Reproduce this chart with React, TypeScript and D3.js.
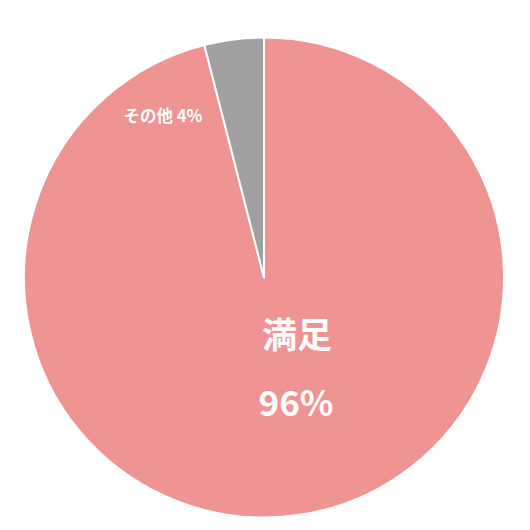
import * as d3 from "d3";
import { useEffect, useRef } from "react";

const categories = ["満足", "その他"];
const values = [96, 4];
const colors = ["#ef9393", "#a0a0a0"];

const W = 530;
const H = 530;
const FONT = "'Noto Sans CJK JP', 'Noto Sans', sans-serif";

export default function App() {
  const ref = useRef<SVGSVGElement>(null);

  useEffect(() => {
    if (!ref.current) return;
    const svg = d3.select(ref.current);
    svg.selectAll("*").remove();

    const cx = 264;
    const cy = 277.5;
    const r = 240;

    const data = categories.map((c, i) => ({ name: c, value: values[i], color: colors[i] }));
    // 時計回り、小さいスライスが左上に来るように
    const pie = d3
      .pie<(typeof data)[number]>()
      .value((d) => d.value)
      .sort(null)
      .startAngle(0)
      .endAngle(2 * Math.PI);
    const arcs = pie(data);
    const arc = d3.arc<d3.PieArcDatum<(typeof data)[number]>>().innerRadius(0).outerRadius(r);

    const g = svg.append("g").attr("transform", `translate(${cx},${cy})`);

    g.selectAll("path")
      .data(arcs)
      .enter()
      .append("path")
      .attr("d", arc)
      .attr("fill", (d) => d.data.color)
      .attr("stroke", "#fff")
      .attr("stroke-width", 2)
      .attr("stroke-linejoin", "round");

    // 大きいスライスのラベル
    const big = arcs[0];
    g.append("text")
      .attr("x", 33)
      .attr("y", 70)
      .attr("text-anchor", "middle")
      .attr("fill", "#fff")
      .attr("font-family", FONT)
      .attr("font-weight", 700)
      .attr("font-size", 35)
      .text(big.data.name);
    g.append("text")
      .attr("x", 32)
      .attr("y", 138)
      .attr("text-anchor", "middle")
      .attr("fill", "#fff")
      .attr("font-family", FONT)
      .attr("font-weight", 700)
      .attr("font-size", 35)
      .text(`${big.data.value}%`);

    // 小さいスライスのラベル
    const small = arcs[1];
    g.append("text")
      .attr("x", -101)
      .attr("y", -156)
      .attr("text-anchor", "middle")
      .attr("fill", "#fff")
      .attr("font-family", FONT)
      .attr("font-weight", 700)
      .attr("font-size", 16.5)
      .text(`${small.data.name} ${small.data.value}%`);
  }, []);

  return <svg ref={ref} width={W} height={H} style={{ display: "block", position: "absolute", left: 0, top: 0 }}></svg>;
}
